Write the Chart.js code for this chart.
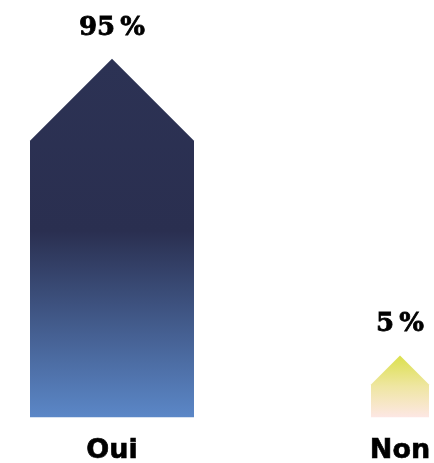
<!DOCTYPE html>
<html>
<head>
<meta charset="utf-8">
<script src="https://cdn.jsdelivr.net/npm/chart.js@4.4.1/dist/chart.umd.min.js"></script>
<style>
  html, body { margin: 0; padding: 0; background: #fff; }
  #wrap { width: 434px; height: 463px; }
</style>
</head>
<body>
<div id="wrap"><canvas id="voteChart"></canvas></div>
<script>
// Pictogram bars: each value is drawn as a "house" whose area follows the value
const categories = ['Oui', 'Non'];
const percentValues = [95, 5];
const valueLabels = ['95\u2009%', '5\u2009%'];

const barWidths = [164, 58];
const gradientStops = [
    [[0, '#2c3254'], [0.48, '#2a2f50'], [1, '#5b87c7']],
    [[0, '#dbe04c'], [0.5, '#efe6a2'], [1, '#fde7e4']]
];

// Draw each bar as a house shape with the same area as the bar rectangle
// measured against the widest bar
const housePlugin = {
    id: 'housePlugin',
    beforeDatasetDraw(chart, args) {
        const { ctx } = chart;
        const meta = chart.getDatasetMeta(args.index);
        const refWidth = Math.max(...barWidths);
        meta.data.forEach((bar, i) => {
            const v = chart.data.datasets[args.index].data[i];
            if (v === null || v === undefined) return;
            const w = bar.width;
            const area = (bar.base - bar.y) * refWidth;
            const h = area / w - w / 4;
            const left = bar.x - w / 2, right = bar.x + w / 2;
            const shoulder = bar.base - h;
            const peak = shoulder - w / 2;
            const grad = ctx.createLinearGradient(0, peak, 0, bar.base);
            gradientStops[args.index].forEach(s => grad.addColorStop(s[0], s[1]));
            ctx.save();
            ctx.beginPath();
            ctx.moveTo(left, bar.base);
            ctx.lineTo(left, shoulder);
            ctx.lineTo(bar.x, peak);
            ctx.lineTo(right, shoulder);
            ctx.lineTo(right, bar.base);
            ctx.closePath();
            ctx.fillStyle = grad;
            ctx.fill();
            ctx.font = 'bold 26px "DejaVu Serif", serif';
            ctx.fillStyle = '#000';
            ctx.strokeStyle = '#000';
            ctx.lineWidth = 0.8;
            ctx.textAlign = 'center';
            ctx.textBaseline = 'alphabetic';
            ctx.fillText(valueLabels[args.index], bar.x, peak - 24);
            ctx.strokeText(valueLabels[args.index], bar.x, peak - 24);
            ctx.restore();
        });
        return false;
    }
};

const datasets = categories.map((cat, i) => ({
    label: cat,
    data: categories.map((c, j) => (j === i ? percentValues[i] : null)),
    barThickness: barWidths[i],
    backgroundColor: 'transparent',
    clip: false
}));

new Chart(document.getElementById('voteChart'), {
    type: 'bar',
    data: { labels: categories, datasets: datasets },
    options: {
        responsive: true,
        maintainAspectRatio: false,
        animation: false,
        layout: { padding: { top: 83, left: 112, right: 34, bottom: -22 } },
        datasets: { bar: { grouped: false } },
        scales: {
            x: {
                offset: false,
                grid: { display: false, drawTicks: false },
                border: { display: false },
                afterFit(scale) {
                    // let the layout padding alone place the end categories
                    scale.paddingLeft = 0;
                    scale.paddingRight = 0;
                },
                ticks: {
                    padding: 17,
                    color: '#000',
                    textStrokeColor: '#000',
                    textStrokeWidth: 0.6,
                    font: { family: '"DejaVu Sans", sans-serif', weight: 'bold', size: 27, lineHeight: 1.25 }
                }
            },
            y: { display: false, min: 0, max: 100 }
        },
        plugins: { legend: { display: false }, tooltip: { enabled: false } }
    },
    plugins: [housePlugin]
});
</script>
</body>
</html>
